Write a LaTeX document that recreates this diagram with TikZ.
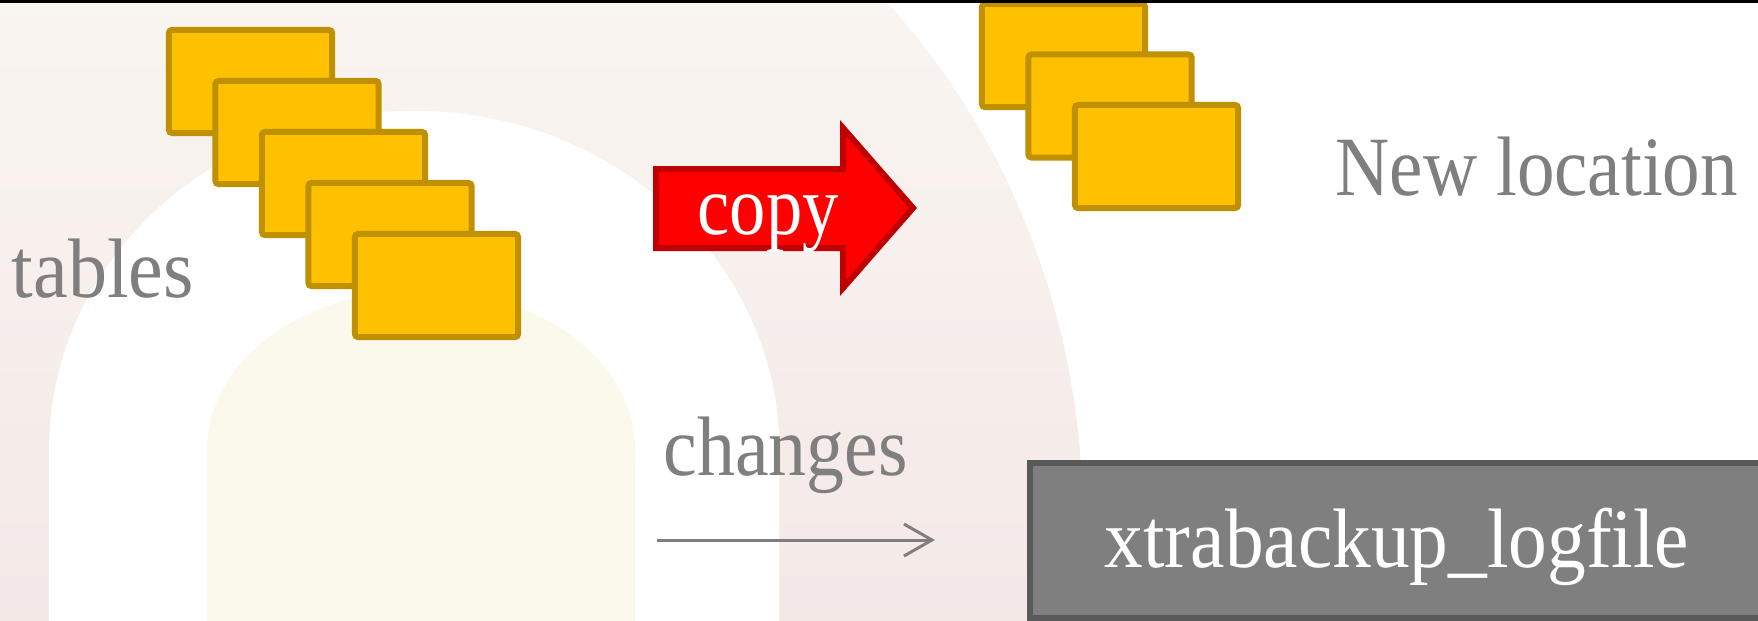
\documentclass[tikz,border=0pt]{standalone}
\usepackage{fontspec}
\setmainfont{Liberation Serif}
\usepackage{graphicx}
\usetikzlibrary{arrows.meta}
\definecolor{tblfill}{HTML}{FFC000}
\definecolor{tblborder}{HTML}{BF9000}
\definecolor{copyred}{HTML}{FF0000}
\definecolor{copyborder}{HTML}{C00000}
\definecolor{labelgrey}{HTML}{7F7F7F}
\definecolor{logfill}{HTML}{7F7F7F}
\definecolor{logborder}{HTML}{595959}
\definecolor{archtop}{HTML}{FBF9F4}
\definecolor{archbottom}{HTML}{F3E7E6}
\definecolor{core}{HTML}{FBF8EC}

% keep the height, force the width
\newcommand{\squeezeto}[2]{\resizebox{#1}{\height}{#2}}

\begin{document}
\begin{tikzpicture}[x=0.01cm, y=-0.01cm,
    tablebox/.style={draw=tblborder, fill=tblfill, line width=0.6mm,
      rounded corners=0.3mm, minimum width=1.63cm, minimum height=1.03cm,
      inner sep=0pt},
    greytext/.style={text=labelgrey, font=\fontsize{24}{28}\selectfont,
      inner sep=0pt, anchor=base west},
    whitetext/.style={greytext, text=white},
    copyarrow/.style={fill=copyred, draw=copyborder, line width=0.6mm},
    logbox/.style={fill=logfill, draw=logborder, line width=0.6mm,
      minimum width=8cm, minimum height=1.55cm, anchor=north west},
    changelink/.style={draw=labelgrey, line width=0.3mm,
      -{Straight Barb[length=2.8mm, width=3.2mm]}}]
  \useasboundingbox (0,0) rectangle (1758,620);
  \clip (0,0) rectangle (1758,620);

  % backdrop: three nested arches
  \fill[white] (0,0) rectangle (1758,620);
  \shade[top color=archtop, bottom color=archbottom]
    (-254,700) -- (-254,520)
    arc[start angle=180, end angle=0, x radius=6.68cm, y radius=7.31cm]
    -- (1082,700) -- cycle;
  \fill[white] (49,700) -- (49,450)
    arc[start angle=180, end angle=0, x radius=3.65cm, y radius=3.39cm]
    -- (779,700) -- cycle;
  \fill[core] (207,700) -- (207,450)
    arc[start angle=180, end angle=0, x radius=2.14cm, y radius=1.6cm]
    -- (635,700) -- cycle;

  % source tables
  \foreach \i in {0,...,4}
    \node[tablebox] (tbl\i) at (250.5+46.5*\i, 81.5+51*\i) {};
  % copied tables
  \foreach \i in {0,1,2}
    \node[tablebox] (dst\i) at (1063.5+46.5*\i, 55.5+50.5*\i) {};

  \node[greytext] (tables) at (11,297) {\squeezeto{1.82cm}{tables}};
  \node[greytext] (newloc) at (1335,195) {\squeezeto{4.02cm}{New location}};

  % copy step
  \filldraw[copyarrow] (656,169) -- (843,169) -- (843,128) -- (913,208)
    -- (843,288) -- (843,248) -- (656,248) -- cycle;
  \node[whitetext] (copy) at (697,234) {\squeezeto{1.41cm}{copy}};

  % redo log
  \node[greytext] (changes) at (663,475) {\squeezeto{2.44cm}{changes}};
  \coordinate (chgtail) at (657,540);
  \coordinate (chghead) at (935,540);
  \draw[changelink] (chgtail) -- (chghead);

  \node[logbox] (logbox) at (1027,460) {};
  \node[whitetext] (logname) at (1104,567)
    {\squeezeto{5.84cm}{xtrabackup\_logfile}};

  \fill[black] (0,0) rectangle (1758,3);
\end{tikzpicture}
\end{document}
